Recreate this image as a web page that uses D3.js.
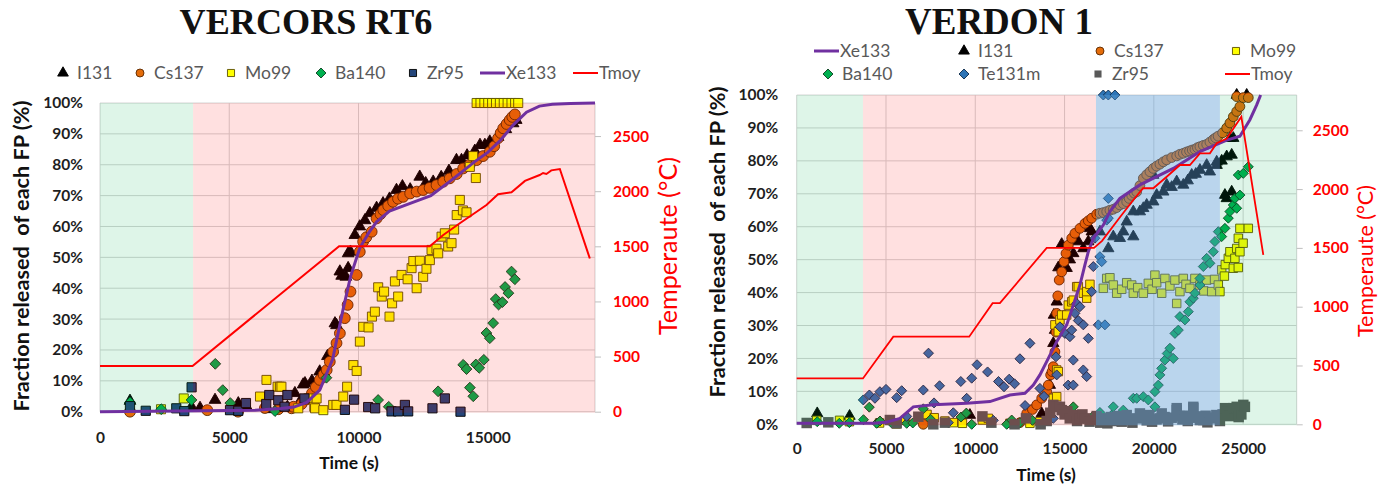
<!DOCTYPE html>
<html>
<head>
<meta charset="utf-8">
<script src="https://cdn.jsdelivr.net/npm/d3@7/dist/d3.min.js"></script>
<style>
body { margin: 0; background: #fff; }
svg text { font-family: Lato, 'Liberation Sans', sans-serif; }
svg text.title { font-family: 'Liberation Serif', serif; }
</style>
</head>
<body>
<div class="container"></div>
<script>
// ---------- VERCORS RT6 (time s, % released) ----------
var rt6I131 = [[1160,3.5],[3540,1.6],[3870,1.2],[4450,3.8],[5350,2.7],[5670,1.6],[6500,0.8],[7250,1.5],[7540,6],[7730,3.2],[7860,8.8],[7930,9.2],[8200,10],[8500,13],[8800,18],[9090,28.6],[9150,28],[9280,45.4],[9350,44],[9510,43.7],[9600,46.5],[9600,51.3],[9690,51.8],[9860,57.2],[10050,60],[10250,62],[10440,64.3],[10700,66],[10950,67.5],[11200,69],[11470,71.8],[11700,73],[12000,72],[12370,76.1],[12600,74],[12890,74.5],[13200,76],[13500,78],[13790,81.5],[13985,81.5],[14200,83],[14500,84.5],[14700,86.4],[14890,86.4],[15080,87.5],[15400,89],[15700,91.5],[15980,93.4],[16100,94.5]];
var rt6Cs137 = [[1160,0],[4150,0.5],[5340,0],[6380,1.2],[6900,0.8],[7410,1.1],[7480,1.6],[7800,2.5],[8000,4],[8200,6],[8350,8],[8500,10.3],[8650,12],[8770,13.5],[8890,16.2],[9020,19.4],[9150,22.2],[9280,25.4],[9470,30.3],[9580,34.6],[9690,38.9],[9930,44.3],[10050,51.8],[10180,55.1],[10300,56.5],[10510,58.3],[10700,62.6],[10850,64],[10960,65.3],[11150,66.7],[11340,68],[11530,69],[11730,69.6],[12000,70.7],[12250,71.3],[12500,71.8],[12750,72.5],[13020,73.4],[13280,74.5],[13530,75.6],[13800,77],[14050,78.8],[14300,80],[14570,81.5],[14820,82.8],[15080,84.2],[15250,86],[15400,88.6],[15500,90.3],[15600,91.8],[15730,93.2],[15850,94.5],[15950,95.5],[16050,96.3]];
var rt6Mo99 = [[2360,0.8],[3240,4.3],[6190,4.9],[6440,10.3],[6870,8.1],[6960,8.1],[7020,8.1],[7670,1.1],[8060,4.3],[8290,1.6],[8320,1.1],[8380,4.3],[8640,0.5],[9020,2.2],[9150,2.2],[9410,4.9],[9560,8.1],[9800,15.1],[9930,13.2],[10054,22.7],[10182,27.5],[10390,27.3],[10520,30.8],[10634,32.4],[10762,40.3],[10900,37.3],[10990,38.9],[11200,30.8],[11300,35.1],[11410,42.2],[11535,37.3],[11666,44.3],[11900,42.9],[12054,46.5],[12120,48.8],[12250,40],[12374,48.9],[12502,43.7],[12630,46.3],[12761,49.1],[12826,52.4],[13018,52.8],[13083,51.3],[13213,56.7],[13340,57.8],[13470,53.5],[13600,54.6],[13700,59],[13800,63.7],[13921,68.6],[14040,65.2],[14180,64.6],[14308,79.3],[14437,82.8],[14540,75.7],[14570,100],[14720,100],[14870,100],[15020,100],[15170,100],[15320,100],[15470,100],[15620,100],[15770,100],[15920,100],[16060,100],[16180,100]];
var rt6Ba140 = [[1160,3],[2370,0.8],[3540,3.8],[4460,15.5],[4750,7],[5040,2.8],[6770,0.2],[8760,11],[10760,3.8],[11170,1.6],[13080,6.6],[14050,15.2],[14180,13.8],[14310,7.8],[14440,5],[14540,15.3],[14670,14.2],[14850,16.8],[14950,25.5],[15080,23.8],[15210,28.7],[15310,36.5],[15420,34.7],[15570,35.5],[15670,40.4],[15800,38.4],[15920,45.4],[16050,42.9]];
var rt6Zr95 = [[1160,1.8],[1770,0.3],[2950,1.1],[3260,0.2],[3544,7.9],[5030,0.5],[5350,0.3],[5646,2.8],[6430,2.5],[6548,5.4],[6896,3.7],[7140,1.6],[7250,5.4],[7910,4.3],[9474,0.6],[9830,3.9],[10375,1.5],[10645,1.1],[11279,0.1],[11535,0.1],[11795,2.2],[11922,0.1],[12862,1.1],[13340,4.3],[13947,0]];
var rt6Xe133 = [[0,0],[3000,0.2],[6000,0.5],[7000,1],[7500,1.5],[8000,3],[8500,7],[9000,17],[9400,33],[9700,44],[10050,53],[10400,58],[10700,61.5],[11200,65],[12000,67.5],[12800,70],[13600,75],[14500,81],[15000,84],[15500,88],[16000,93],[16500,97],[17000,99],[17500,99.6],[18200,99.8],[19150,100]];
// temperature in °C
var rt6Tmoy = [[0,415],[3580,415],[9250,1500],[12760,1500],[13280,1603],[13920,1709],[14570,1814],[14950,1875],[15400,1972],[15920,1990],[16440,2093],[17010,2147],[17140,2165],[17270,2156],[17460,2189],[17790,2201],[18950,1390]];
var rt6Bands = [[0,3600,'green'],[3600,19150,'pink']];
var rt6TimeTicks = [0,5000,10000,15000];

// ---------- VERDON 1 ----------
var v1Xe133 = [[0,0.3],[4300,0.3],[5000,0.6],[5780,1.8],[6530,5.3],[7650,5.9],[9520,6.4],[10820,6.9],[11940,8.9],[12780,9.4],[13250,11.9],[13620,15],[14090,20],[14560,25.1],[15120,30.2],[15490,36.2],[15860,42.3],[16140,48.4],[16330,52.4],[16610,56.5],[17170,60.5],[17540,64.6],[18100,68.6],[19220,72.7],[21090,77.7],[22580,82.8],[24080,86.3],[24820,87.5],[25380,92.5],[25760,97],[25980,100]];
var v1I131 = [[1150,3.3],[2960,2.5],[9700,2.8],[12800,1.5],[13720,3.3],[14180,11.9],[14370,24.6],[14400,33.2],[14460,16],[14460,28.6],[14560,37.2],[14650,47.6],[14840,54.7],[15120,47.4],[15300,50],[15490,51.9],[15770,55.5],[16050,53.4],[16330,55.5],[16420,59.5],[16520,58.5],[16980,58.5],[17450,53.4],[17730,57],[18100,56.5],[18290,58.5],[18480,61.5],[18850,57],[18850,64.6],[19220,64.6],[19410,65.6],[19600,66.6],[19970,67.6],[19970,75.7],[20160,69.6],[20530,70.6],[20720,72.7],[21000,72],[21280,73.7],[21650,72.7],[21900,74],[22120,75.7],[22350,76],[22580,77.2],[22960,78.7],[23140,76.7],[23520,79.7],[23520,78.7],[23800,80],[23980,69.6],[24080,68.6],[24080,81.3],[24260,86.9],[24360,70.6],[24360,81.8],[24450,86.9],[24640,100],[25200,100]];
var v1Cs137 = [[7090,0],[12500,0.5],[12880,3.3],[13200,4.5],[13440,5.9],[13720,7.9],[14000,9.9],[14090,11.9],[14220,15],[14300,16],[14370,17.5],[14460,22],[14520,28],[14560,33.7],[14620,39],[14700,43.8],[14840,46.3],[14970,49.4],[15080,51.9],[15210,54.4],[15400,56.5],[15580,58],[15860,59.5],[16140,61],[16330,61.8],[16520,62.6],[16800,63.8],[16980,64.1],[17170,64.3],[17360,64.6],[17540,65],[17730,65.3],[17920,65.8],[18100,66.6],[18290,67],[18480,67.6],[18620,68.6],[18760,69.5],[18900,70.2],[19040,70.6],[19220,72.5],[19410,74.7],[19600,75.8],[19780,76.7],[19970,77.7],[20150,78.4],[20340,79],[20530,79.7],[20720,80.3],[21000,81],[21280,81.5],[21460,82],[21650,82.3],[21830,82.7],[22000,83],[22150,83.3],[22300,83.5],[22440,84],[22580,84.3],[22770,84.7],[22960,85],[23140,85.7],[23330,86.5],[23460,87],[23600,87.5],[23850,88.5],[24080,90],[24260,91.5],[24450,93.4],[24640,95],[24820,96.5],[24640,99.5],[25010,99.2],[25290,99.2]];
var v1Mo99 = [[1120,1.2],[2400,1.2],[2950,0.8],[4640,0.4],[5580,0.1],[6100,1.2],[7300,3],[7700,2],[8300,1],[8770,0.5],[9280,0.3],[10400,1.3],[10730,1.8],[11940,0.3],[13060,0.3],[13620,0.8],[14370,7.9],[14560,8.4],[14560,16.5],[14650,16],[14460,30.2],[14650,28.1],[14740,31.7],[14840,33.2],[15120,33.2],[15210,36.2],[15400,37.2],[15490,37.7],[15680,41.8],[15770,41.8],[16050,39.8],[16240,38.3],[16240,40.3],[16420,42.5],[17170,41.3],[17360,44.3],[17540,44.5],[17730,42.3],[17920,39.8],[18200,41],[18480,43],[18760,42.3],[18850,39.8],[19100,41.5],[19410,39.8],[19690,42.8],[19900,41],[20060,45.3],[20160,43],[20440,39.8],[20620,44.3],[20900,42],[21180,43.8],[21280,36.7],[21460,40.3],[21650,44.3],[21800,42.5],[22020,41.3],[22300,44.3],[22580,42.3],[22800,40.5],[22960,43.8],[23240,40.3],[23400,44],[23610,42.3],[23700,40.3],[23800,46.9],[23950,45],[24000,48.5],[24170,50.4],[24260,52.4],[24450,47.4],[24540,50.4],[24640,53.4],[24730,56.5],[24730,47.6],[24820,52.4],[24820,59.5],[25000,55],[25290,59.5]];
var v1Ba140 = [[1150,0.8],[2385,0.3],[2950,0.5],[3740,1.4],[4066,5.2],[4480,0.3],[4664,1],[5300,0.5],[6159,0.3],[6500,0.4],[7090,4.7],[7500,1.5],[9200,2.2],[9500,3.4],[9800,0],[11760,0],[12040,1.3],[12500,0.5],[13200,1.2],[15490,5.3],[16050,1.8],[16600,2.5],[16980,3.6],[17260,1.8],[17640,2.8],[17730,5.3],[18000,1.2],[18290,4.3],[18600,2],[18850,7.9],[19040,7.9],[19410,8.4],[19690,7.4],[20060,9.9],[20060,5.3],[20250,11.9],[20340,15],[20440,17],[20620,19.5],[20750,21.5],[20900,23.1],[21090,20],[21180,27.6],[21370,28.6],[21460,32.7],[21740,31.7],[21930,34.2],[22020,37.2],[22210,38.3],[22300,39.8],[22580,42.3],[22580,44.3],[22770,47.9],[22960,50.4],[23140,48.9],[23330,52.4],[23420,55.5],[23610,58.5],[23800,57],[23980,59.5],[24170,62.6],[24260,64.6],[24450,66.6],[24540,68.6],[24640,65.6],[24820,69.6],[24730,75.7],[25010,76.2],[25290,78.2]];
var v1Te131m = [[3730,7.4],[4070,8.9],[4380,7.9],[4660,9.9],[5000,10.6],[5600,8.1],[5880,10.2],[6160,2.4],[7090,10.4],[7380,21.6],[7690,6.5],[8000,11.7],[8490,0.5],[8770,3.5],[9190,13],[9520,7.9],[9800,14],[10100,18.1],[10690,15.9],[11010,1.2],[11300,13],[11610,11.4],[11900,13.7],[12200,12.3],[12500,19.9],[12790,5.7],[13060,24.6],[13620,10.9],[13850,8.5],[14370,1.8],[14520,20.5],[14560,15],[14740,29.6],[15020,27.6],[15200,11.9],[15300,26.6],[15400,28.6],[15490,19.5],[15490,11.9],[15580,33.7],[15680,36.7],[15770,31.5],[15860,35.7],[16050,16.5],[16050,30.2],[16240,14.5],[16330,26.1],[16520,40.3],[16610,47.9],[16700,56.5],[16890,30.2],[16980,50.9],[17080,49.4],[17170,100],[17260,30.2],[17360,62],[17450,100],[17450,68.6],[17820,100],[17450,62.6]];
var v1Zr95 = [[560,0.4],[1770,0.6],[5220,1.3],[5600,0.3],[6810,2.3],[7650,0],[8300,0.5],[10400,2.4],[10900,0.5],[12200,0],[12840,1.8],[13660,0],[14000,1],[14200,3.5],[14370,5.9],[14560,5.3],[14740,5.3],[14840,4.3],[15000,3],[15150,4],[15300,1.8],[15490,2.8],[15700,1],[15860,1.8],[16000,3],[16140,1.8],[16400,0.8],[16610,1.3],[16800,2.5],[17000,0.5],[17200,1.8],[17400,0.3],[17600,2.2],[17800,1],[18000,2.5],[18200,0.8],[18480,1.3],[18480,2.8],[18650,1.5],[18800,0.5],[19040,1.8],[19220,3.3],[19400,2],[19600,1.2],[19750,2.8],[19900,0.8],[20150,1.5],[20340,1.8],[20440,3.3],[20600,2.2],[20800,0.9],[21000,2],[21280,4.3],[21280,4.9],[21450,2.5],[21600,1.5],[21750,2.6],[21900,1],[22050,2],[22210,5.3],[22210,4.9],[22400,2.4],[22580,1.3],[22770,1.3],[22900,2.6],[23000,0.6],[23150,2],[23330,1.8],[23500,2.8],[23700,1],[23850,3],[23980,4.9],[24080,3.8],[24250,2.5],[24450,4.9],[24640,5.3],[24750,2.2],[24900,3],[25010,5.9],[25100,5.3]];
var v1Tmoy = [[0,390],[3710,390],[5410,745],[9660,745],[10970,1030],[11380,1030],[14000,1500],[16650,1500],[17100,1560],[18100,1760],[18850,1907],[19400,2007],[19970,2007],[20720,2105],[21460,2205],[22020,2205],[22580,2304],[23140,2304],[23520,2390],[24080,2430],[24900,2615],[26130,1440]];
var v1Bands = [[0,3710,'green'],[3710,16760,'pink'],[16760,23700,'blue'],[23700,28000,'green']];
var v1TimeTicks = [0,5000,10000,15000,20000,25000];

var fracTicks = [0,10,20,30,40,50,60,70,80,90,100];
var tempTicks = [0,500,1000,1500,2000,2500];

var bandFill = {green: 'rgba(0,176,80,0.13)', pink: 'rgba(255,0,0,0.12)', blue: 'rgba(91,155,213,0.42)'};

var diamond = {draw: function (ctx, size) {
    var r = Math.sqrt(size / 2);
    ctx.moveTo(0, -r); ctx.lineTo(r, 0); ctx.lineTo(0, r); ctx.lineTo(-r, 0); ctx.closePath();
}};

var styles = {
    I131: {type: d3.symbolTriangle, fill: '#000', stroke: '#000'},
    Cs137: {type: d3.symbolCircle, fill: '#E46C0A', stroke: '#5a2800'},
    Mo99: {type: d3.symbolSquare, fill: '#FFFF00', stroke: '#5c5000'},
    Ba140: {type: diamond, fill: '#00B050', stroke: '#0b3d1e'},
    Zr95: {type: d3.symbolSquare, fill: '#24457a', stroke: '#000'},
    Te131m: {type: diamond, fill: '#2E75B6', stroke: '#0d2a4a'},
    Zr95g: {type: d3.symbolSquare, fill: '#595959', stroke: 'none'},
    Xe133: {line: '#7030A0', width: 3},
    Tmoy: {line: '#FF0000', width: 2}
};

var translate = function (x, y) {
    return 'translate(' + x + ',' + y + ')';
};

// shrink/grow a text so that it takes the given length
var fitText = function (sel, len) {
    var fs = parseFloat(sel.attr('font-size'));
    var w = sel.node().getComputedTextLength();
    sel.attr('font-size', (fs * len / w).toFixed(2));
};

var drawPanel = function (svg, p) {
    var x = d3.scaleLinear().domain([0, p.tMax]).range([p.left, p.right]);
    var y = d3.scaleLinear().domain([0, 100]).range([p.bottom, p.top]);
    var y2 = d3.scaleLinear().domain([0, 2800]).range([p.bottom, p.top]);
    var g = svg.append('g');

    g.selectAll('.hgrid').data(fracTicks).enter().append('line')
        .attr('x1', p.left).attr('x2', p.right)
        .attr('y1', function (d) { return y(d); }).attr('y2', function (d) { return y(d); })
        .attr('stroke', '#d4d4d4').attr('stroke-width', 1);
    g.selectAll('.vgrid').data(p.timeTicks.concat([p.tMax])).enter().append('line')
        .attr('x1', function (d) { return x(d); }).attr('x2', function (d) { return x(d); })
        .attr('y1', p.top).attr('y2', p.bottom)
        .attr('stroke', '#d4d4d4').attr('stroke-width', 1);

    p.series.forEach(function (s) {
        var st = styles[s.style];
        var sym = d3.symbol().type(st.type).size(s.size);
        g.append('g').selectAll('path').data(s.data).enter().append('path')
            .attr('d', sym)
            .attr('transform', function (d) { return translate(x(d[0]), y(d[1])); })
            .attr('fill', st.fill).attr('stroke', st.stroke).attr('stroke-width', 0.9);
    });

    g.selectAll('.band').data(p.bands).enter().append('rect')
        .attr('x', function (d) { return x(d[0]); })
        .attr('width', function (d) { return x(d[1]) - x(d[0]); })
        .attr('y', p.top).attr('height', p.bottom - p.top + 1)
        .attr('fill', function (d) { return bandFill[d[2]]; });

    var xeLine = d3.line().x(function (d) { return x(d[0]); }).y(function (d) { return y(d[1]); });
    var tLine = d3.line().x(function (d) { return x(d[0]); }).y(function (d) { return y2(d[1]); });
    g.append('path').datum(p.xe).attr('d', xeLine).attr('fill', 'none')
        .attr('stroke', styles.Xe133.line).attr('stroke-width', 3);
    g.append('path').datum(p.tmoy).attr('d', tLine).attr('fill', 'none')
        .attr('stroke', styles.Tmoy.line).attr('stroke-width', p.tWidth);

    var yAxis = d3.axisLeft(y).tickValues(fracTicks).tickSize(0).tickPadding(p.yPad)
        .tickFormat(function (d) { return d + '%'; });
    var y2Axis = d3.axisRight(y2).tickValues(tempTicks).tickSize(6).tickPadding(p.y2Pad)
        .tickFormat(d3.format('d'));
    var xAxis = d3.axisBottom(x).tickValues(p.timeTicks).tickSize(0).tickPadding(p.xPad)
        .tickFormat(d3.format('d'));

    var ga = g.append('g').attr('transform', translate(p.left, 0)).call(yAxis);
    ga.selectAll('text').attr('fill', '#1e1e1e');
    var gb = g.append('g').attr('transform', translate(p.right, 0)).call(y2Axis);
    gb.selectAll('text').attr('fill', '#FF0000');
    gb.selectAll('line').attr('stroke', '#bfbfbf');
    var gc = g.append('g').attr('transform', translate(0, p.bottom)).call(xAxis);
    gc.selectAll('text').attr('fill', '#1e1e1e');
    [ga, gb, gc].forEach(function (a) {
        a.select('.domain').remove();
        a.selectAll('text').attr('font-family', null).attr('font-weight', 'bold').attr('font-size', 15.5);
    });

    // titles
    var t = svg.append('text').attr('class', 'title').text(p.title).attr('x', p.titleX).attr('y', 34)
        .attr('text-anchor', 'middle')
        .attr('font-weight', 'bold').attr('font-size', 36).attr('fill', '#111');
    fitText(t, p.titleW);

    var yt = svg.append('text').text('Fraction released  of each FP (%)')
        .attr('transform', translate(p.yTitleX, p.yTitleY) + ' rotate(-90)')
        .attr('text-anchor', 'middle').attr('dy', '0.35em')
        .attr('font-weight', 'bold').attr('font-size', 18).attr('fill', '#111')
        .style('white-space', 'pre');
    fitText(yt, 311);

    var y2t = svg.append('text').text('Temperaute (°C)')
        .attr('transform', translate(p.y2TitleX, p.y2TitleY) + ' rotate(-90)')
        .attr('text-anchor', 'middle').attr('dy', '0.35em')
        .attr('font-size', 20).attr('fill', '#FF0000');
    fitText(y2t, p.y2TitleW);

    svg.append('text').text('Time (s)').attr('x', p.timeX).attr('y', p.timeY)
        .attr('text-anchor', 'middle').attr('font-weight', 'bold')
        .attr('font-size', 17.5).attr('fill', '#111');

    // legend
    p.legend.forEach(function (e) {
        var lg = svg.append('g').attr('transform', translate(e.x, e.y));
        var tx = 14;
        if (e.line) {
            lg.append('line').attr('x1', 0).attr('x2', 25).attr('y1', 0).attr('y2', 0)
                .attr('stroke', styles[e.line].line).attr('stroke-width', e.line === 'Xe133' ? 3 : 2);
            tx = 26;
        } else {
            var st = styles[e.style];
            lg.append('path').attr('d', d3.symbol().type(st.type).size(e.size || 50))
                .attr('fill', st.fill).attr('stroke', st.stroke).attr('stroke-width', 0.9);
        }
        lg.append('text').text(e.name).attr('x', tx).attr('dy', '0.36em')
            .attr('font-size', 17.5).attr('fill', '#595959');
    });
};

var rt6Names = ['I131', 'Cs137', 'Mo99', 'Ba140', 'Zr95', 'Xe133', 'Tmoy'];
var v1Names = ['Xe133', 'I131', 'Cs137', 'Mo99', 'Ba140', 'Te131m', 'Zr95', 'Tmoy'];

var visualize = function () {
    var svg = d3.select('.container').append('svg')
        .attr('width', 1392).attr('height', 491);

    var rt6LegendX = [63, 140, 231, 321, 413, 480, 573];
    drawPanel(svg, {
        title: 'VERCORS RT6', titleX: 306, titleW: 253,
        left: 100, right: 595, top: 103, bottom: 411.7, tMax: 19150,
        timeTicks: rt6TimeTicks, bands: rt6Bands, xe: rt6Xe133, tmoy: rt6Tmoy, tWidth: 2,
        yPad: 17, y2Pad: 12, xPad: 20,
        yTitleX: 21, yTitleY: 256, y2TitleX: 668, y2TitleY: 246, y2TitleW: 178,
        timeX: 349, timeY: 469,
        series: [
            {data: rt6I131, style: 'I131', size: 60},
            {data: rt6Cs137, style: 'Cs137', size: 92},
            {data: rt6Mo99, style: 'Mo99', size: 82},
            {data: rt6Ba140, style: 'Ba140', size: 58},
            {data: rt6Zr95, style: 'Zr95', size: 85}
        ],
        legend: rt6Names.map(function (n, i) {
            var e = {name: n, x: rt6LegendX[i], y: 73, style: n};
            if (n === 'Xe133' || n === 'Tmoy') e.line = n;
            return e;
        })
    });

    var v1LegendX = [814, 964, 1100, 1236, 828, 964, 1098, 1225];
    drawPanel(svg, {
        title: 'VERDON 1', titleX: 999, titleW: 188,
        left: 796.7, right: 1296.7, top: 95, bottom: 424.3, tMax: 28000,
        timeTicks: v1TimeTicks, bands: v1Bands, xe: v1Xe133, tmoy: v1Tmoy, tWidth: 1.8,
        yPad: 18.5, y2Pad: 10, xPad: 18.5,
        yTitleX: 717, yTitleY: 242, y2TitleX: 1365, y2TitleY: 261, y2TitleW: 152,
        timeX: 1046, timeY: 481,
        series: [
            {data: v1I131, style: 'I131', size: 55},
            {data: v1Cs137, style: 'Cs137', size: 75},
            {data: v1Mo99, style: 'Mo99', size: 72},
            {data: v1Ba140, style: 'Ba140', size: 50},
            {data: v1Te131m, style: 'Te131m', size: 50},
            {data: v1Zr95, style: 'Zr95g', size: 110}
        ],
        legend: v1Names.map(function (n, i) {
            var e = {name: n, x: v1LegendX[i], y: i < 4 ? 51 : 74, style: n === 'Zr95' ? 'Zr95g' : n};
            if (n === 'Xe133' || n === 'Tmoy') e.line = n;
            return e;
        })
    });
};

window.onload = visualize;
</script>
</body>
</html>
